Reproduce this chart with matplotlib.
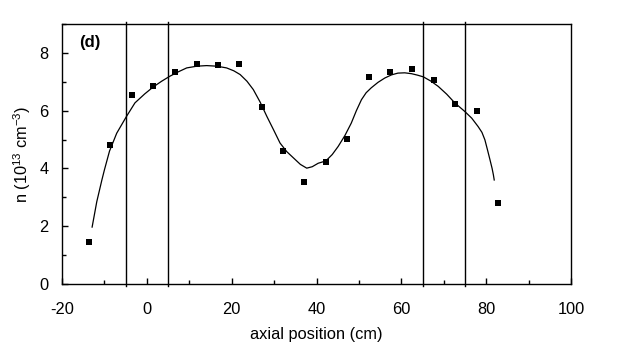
import matplotlib.pyplot as plt
from matplotlib.ticker import MultipleLocator

plt.rcParams['font.family'] = ['Liberation Sans', 'DejaVu Sans']
plt.rcParams['mathtext.default'] = 'regular'
plt.rcParams['axes.unicode_minus'] = False

# measured density along the axis
pos = [-13.6, -8.6, -3.6, 1.5, 6.6, 11.8, 16.8, 21.8, 27.1, 32.1,
       37.0, 42.2, 47.3, 52.4, 57.4, 62.5, 67.6, 72.7, 77.9, 82.8]
dens = [1.45, 4.80, 6.54, 6.84, 7.35, 7.60, 7.58, 7.60, 6.11, 4.60,
        3.53, 4.24, 5.02, 7.17, 7.34, 7.45, 7.05, 6.23, 5.98, 2.82]

# smoothed fit through the points
fit_x = [-12.9, -11.8, -10.6, -10.0, -8.8, -7.1, -4.8, -2.8, -0.5, 1.5, 3.5, 5.4,
         7.5, 9.4, 11.8, 14.1, 16.5, 18.8, 20.5, 22.0, 23.6, 25.1, 26.7, 28.3,
         29.9, 31.4, 33.0, 34.6, 36.2, 37.7, 39.0, 40.4,
         42.2, 43.7, 45.1, 46.7, 48.2, 49.4, 50.6, 51.7, 52.9, 54.5, 56.1, 57.7,
         59.2, 60.8, 62.4, 63.8, 65.2, 67.0, 68.7, 70.7, 72.6, 74.9, 76.6,
         78.1, 79.0, 79.7, 80.3, 80.9, 81.4, 81.7, 81.9]
fit_y = [1.97, 2.85, 3.6, 3.95, 4.60, 5.22, 5.80, 6.27, 6.58, 6.82, 7.02, 7.19,
         7.35, 7.48, 7.54, 7.56, 7.54, 7.48, 7.38, 7.25, 7.02, 6.73, 6.30, 5.80,
         5.33, 4.88, 4.58, 4.36, 4.14, 4.01, 4.06, 4.18,
         4.26, 4.48, 4.76, 5.14, 5.57, 6.00, 6.38, 6.62, 6.79, 6.98, 7.13, 7.24,
         7.30, 7.31, 7.28, 7.23, 7.17, 7.02, 6.84, 6.57, 6.27, 5.98, 5.74,
         5.45, 5.25, 4.99, 4.65, 4.30, 4.00, 3.78, 3.60]

# boundaries of the regions
bounds = [-5, 5, 65, 75]

fig = plt.figure(figsize=(6.36, 3.49), dpi=100)
ax = fig.add_axes([62 / 636, 1 - 284 / 349, 509 / 636, 260 / 349])

ax.plot(fit_x, fit_y, color='black', lw=0.9)
ax.plot(pos, dens, 's', color='black', ms=4.6, mew=0)
for b in bounds:
    ax.axvline(b, ymin=-0.008, ymax=1.008, color='black', lw=1.0, clip_on=False)

ax.set_xlim(-20, 100)
ax.set_ylim(0, 9)
ax.xaxis.set_major_locator(MultipleLocator(20))
ax.xaxis.set_minor_locator(MultipleLocator(10))
ax.yaxis.set_major_locator(MultipleLocator(2))
ax.yaxis.set_minor_locator(MultipleLocator(1))
ax.tick_params(which='both', direction='in', top=False, right=False,
               width=1.0, labelsize=11.8, colors='black')
ax.tick_params(which='major', length=4)
ax.tick_params(which='minor', length=3)
ax.tick_params(axis='x', which='major', pad=13)
ax.tick_params(axis='y', which='major', pad=9.5)
for s in ax.spines.values():
    s.set_linewidth(1.0)

ax.set_xlabel('axial position (cm)', fontsize=11.8, labelpad=7)
ax.set_ylabel('n (10$^{13}$ cm$^{-3}$)', fontsize=11.8, labelpad=5)
ax.text(-16, 8.36, '(d)', fontsize=12, fontweight='bold', va='center')

fig.savefig('out.png', dpi=100)
